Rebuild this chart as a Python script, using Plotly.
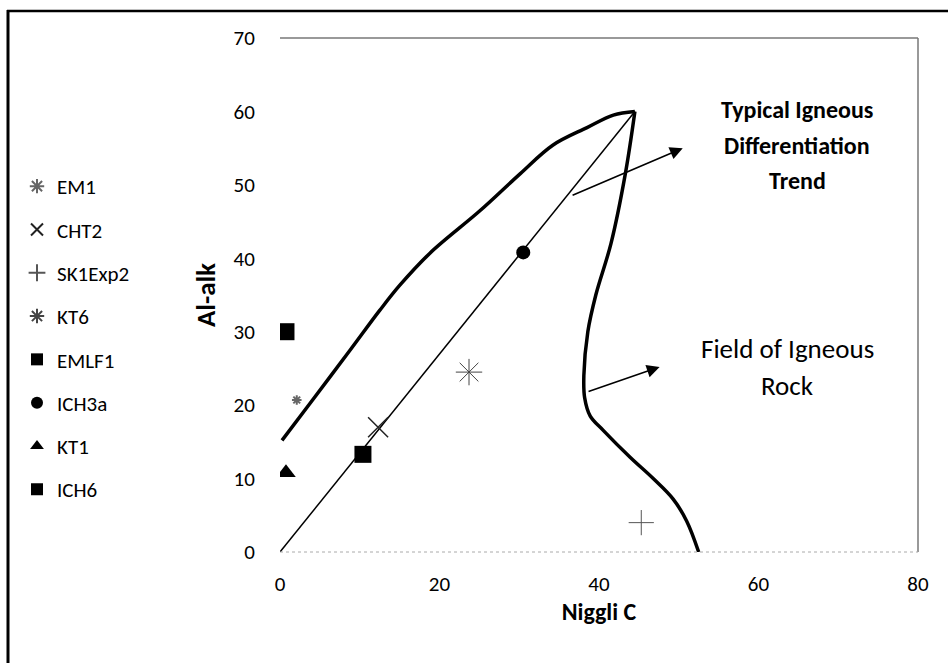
import plotly.graph_objects as go

# ---- data ----
samples = ["EM1", "CHT2", "SK1Exp2", "KT6", "EMLF1", "ICH3a", "KT1", "ICH6"]
niggli_c = [2.1, 12.3, 45.3, 23.7, 0.75, 30.5, 0.75, 10.4]
al_alk = [20.7, 17.0, 4.0, 24.5, 30.0, 40.8, 10.8, 13.3]

# field of igneous rock boundary: upper (left) limb and right limb
upper_x = [0.25, 3.8, 8.8, 12.5, 15.0, 18.8, 25.1, 30.1, 34.2, 38.5, 41.8, 44.5]
upper_y = [15.2, 20.3, 27.5, 32.9, 36.3, 40.7, 46.5, 51.5, 55.4, 57.8, 59.5, 60.0]
right_x = [44.5, 43.3, 41.5, 39.6, 38.6, 38.1, 38.2, 38.9, 40.5, 43.9, 46.8, 49.3, 51.0, 52.5]
right_y = [60.0, 51.5, 42.0, 35.0, 30.0, 24.0, 21.0, 18.5, 16.6, 12.9, 10.0, 7.2, 4.2, 0.0]

# typical igneous differentiation trend
trend_x = [0.0, 44.5]
trend_y = [0.0, 60.0]

x_ticks = [0, 20, 40, 60, 80]
y_ticks = [0, 10, 20, 30, 40, 50, 60, 70]

# ---- styles ----
styles = {
    "EM1": dict(symbol="asterisk-open", size=8, color="#666666", line=dict(width=2, color="#666666")),
    "CHT2": dict(symbol="x-thin-open", size=20, color="#222222", line=dict(width=1.5, color="#222222")),
    "SK1Exp2": dict(symbol="cross-thin-open", size=18, color="#555555", line=dict(width=1, color="#555555")),
    "KT6": dict(symbol="asterisk-open", size=22, color="#444444", line=dict(width=1, color="#444444")),
    "EMLF1": dict(symbol="square", size=17, color="black", line=dict(width=0)),
    "ICH3a": dict(symbol="circle", size=14, color="black", line=dict(width=0)),
    "KT1": dict(symbol="triangle-up", size=17, color="black", line=dict(width=0)),
    "ICH6": dict(symbol="square", size=17, color="black", line=dict(width=0)),
}

FONT = "Carlito, Lato, sans-serif"

fig = go.Figure()

for cx, cy in [(upper_x, upper_y), (right_x, right_y)]:
    fig.add_trace(go.Scatter(x=cx, y=cy, mode="lines",
                             line=dict(color="black", width=3.5, shape="spline", smoothing=1.0),
                             showlegend=False, hoverinfo="skip"))
fig.add_trace(go.Scatter(x=trend_x, y=trend_y, mode="lines",
                         line=dict(color="black", width=1.5),
                         showlegend=False, hoverinfo="skip"))

for i, name in enumerate(samples):
    fig.add_trace(go.Scatter(x=[niggli_c[i]], y=[al_alk[i]], mode="markers", name=name,
                             legendgroup=name, marker=styles[name]))

# plot geometry
L, R, T, B = 280, 30, 38, 111
W, H = 948, 663
pw, ph = W - L - R, H - T - B

def px(xpix):
    return (xpix - L) / pw

def py(ypix):
    return 1 - (ypix - T) / ph

shapes = [
    dict(type="line", xref="paper", yref="paper", x0=0, x1=1, y0=1, y1=1,
         line=dict(color="#777777", width=1.5)),
    dict(type="line", xref="paper", yref="paper", x0=1, x1=1, y0=0, y1=1,
         line=dict(color="#777777", width=1.5)),
    dict(type="line", xref="paper", yref="paper", x0=0, x1=1, y0=0, y1=0,
         line=dict(color="#aaaaaa", width=1, dash="dot")),
    dict(type="line", xref="paper", yref="paper", x0=px(8), x1=px(8), y0=py(10), y1=py(663),
         line=dict(color="black", width=3)),
    dict(type="line", xref="paper", yref="paper", x0=px(7), x1=px(948), y0=py(11), y1=py(11),
         line=dict(color="black", width=2.5)),
]

annotations = [
    dict(x=50.5, y=55.0, ax=36.5, ay=48.5, xref="x", yref="y", axref="x", ayref="y",
         showarrow=True, arrowhead=2, arrowsize=1.6, arrowwidth=1.6, arrowcolor="black", text=""),
    dict(x=47.6, y=25.2, ax=38.5, ay=21.8, xref="x", yref="y", axref="x", ayref="y",
         showarrow=True, arrowhead=2, arrowsize=1.6, arrowwidth=1.6, arrowcolor="black", text=""),
]
for txt, ypix in [("Typical Igneous", 110), ("Differentiation", 145), ("Trend", 180)]:
    annotations.append(dict(x=px(797), y=py(ypix), xref="paper", yref="paper", text="<b>%s</b>" % txt,
                            xanchor="center", yanchor="middle", showarrow=False,
                            font=dict(family=FONT, size=24, color="black")))
for txt, ypix in [("Field of Igneous", 348), ("Rock", 385)]:
    annotations.append(dict(x=px(787), y=py(ypix), xref="paper", yref="paper", text=txt,
                            xanchor="center", yanchor="middle", showarrow=False,
                            font=dict(family=FONT, size=27, color="black")))

fig.update_layout(
    width=W, height=H,
    margin=dict(l=L, r=R, t=T, b=B),
    paper_bgcolor="white", plot_bgcolor="white",
    font=dict(family=FONT, color="black"),
    shapes=shapes, annotations=annotations,
    legend=dict(xref="container", yref="container", x=17 / W, y=1 - 166 / H,
                xanchor="left", yanchor="top", tracegroupgap=13, maxheight=600,
                itemsizing="constant",
                font=dict(family=FONT, size=21, color="black"),
                bgcolor="rgba(0,0,0,0)", traceorder="grouped"),
    xaxis=dict(range=[0, 80], tickvals=x_ticks, showgrid=False, zeroline=False, showline=False,
               ticks="outside", ticklen=13, tickcolor="rgba(0,0,0,0)",
               tickfont=dict(family=FONT, size=21),
               title=dict(text="<b>Niggli C</b>", font=dict(family=FONT, size=24), standoff=0)),
    yaxis=dict(range=[0, 70], tickvals=y_ticks, showgrid=False, zeroline=False, showline=False,
               ticks="outside", ticklen=20, tickcolor="rgba(0,0,0,0)",
               tickfont=dict(family=FONT, size=21),
               title=dict(text="<b>Al-alk</b>", font=dict(family=FONT, size=27), standoff=10)),
)

fig.write_html("out.html")
